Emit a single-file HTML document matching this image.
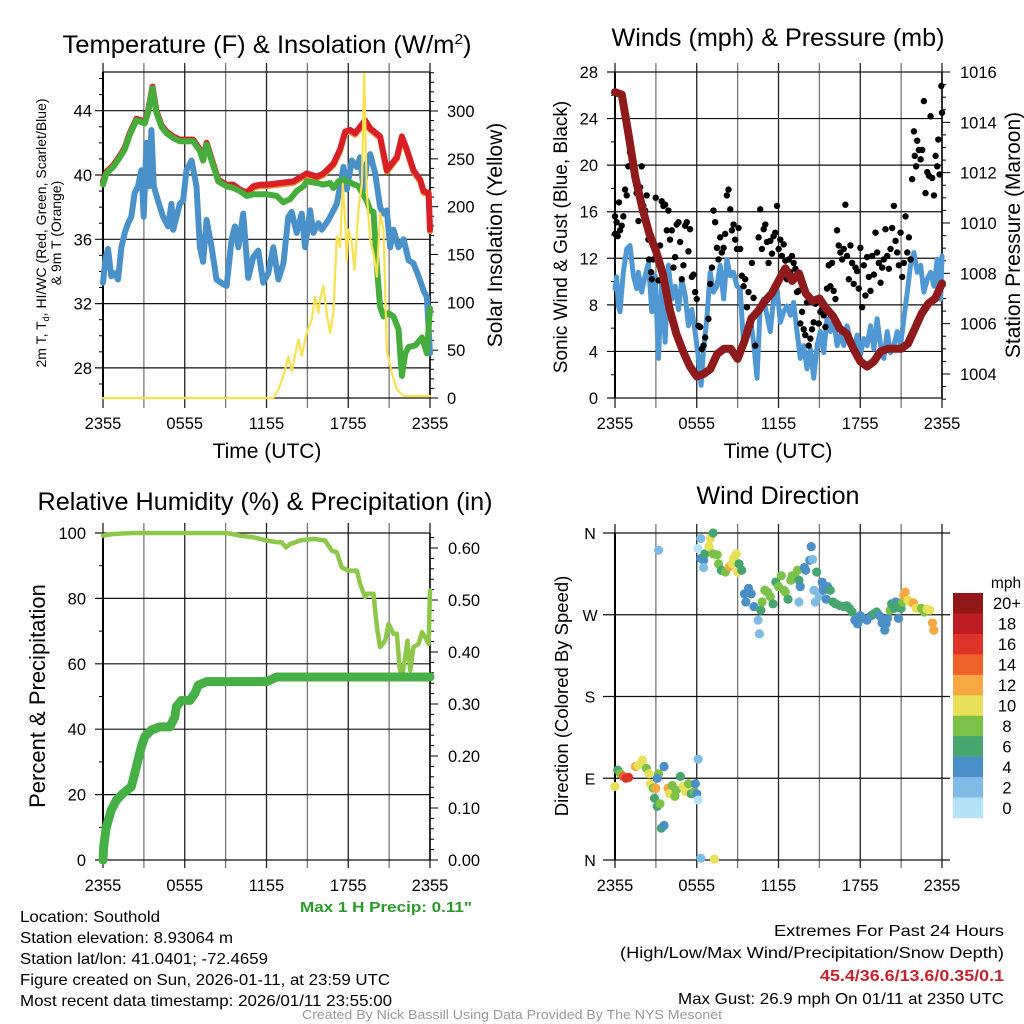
<!DOCTYPE html>
<html><head><meta charset="utf-8"><style>
html,body{margin:0;padding:0;background:#fff}
svg{display:block;font-family:"Liberation Sans",sans-serif}
</style></head><body>
<svg id="s" xmlns="http://www.w3.org/2000/svg" width="1024" height="1024" viewBox="0 0 1024 1024">
<rect width="1024" height="1024" fill="#fff"/>
<g id="plots"></g>
<text x="267" y="53" font-size="25" text-anchor="middle" textLength="409" lengthAdjust="spacingAndGlyphs">Temperature (F) &amp; Insolation (W/m<tspan dy="-9" font-size="15">2</tspan><tspan dy="9">)</tspan></text>
<text x="778" y="46" font-size="25" text-anchor="middle" textLength="333" lengthAdjust="spacingAndGlyphs">Winds (mph) &amp; Pressure (mb)</text>
<text x="265" y="510" font-size="25" text-anchor="middle" textLength="455" lengthAdjust="spacingAndGlyphs">Relative Humidity (%) &amp; Precipitation (in)</text>
<text x="778" y="504" font-size="25" text-anchor="middle" textLength="163" lengthAdjust="spacingAndGlyphs">Wind Direction</text>
<text x="267" y="458" font-size="21" text-anchor="middle">Time (UTC)</text>
<text x="778" y="458" font-size="21" text-anchor="middle">Time (UTC)</text>
<text transform="translate(46,233) rotate(-90)" font-size="14" text-anchor="middle">2m T, T<tspan font-size="9" dy="3">d</tspan><tspan dy="-3">, HI/WC (Red, Green, Scarlet/Blue)</tspan></text>
<text transform="translate(61,233) rotate(-90)" font-size="14" text-anchor="middle">&amp; 9m T (Orange)</text>
<text transform="translate(502,235) rotate(-90)" font-size="21" text-anchor="middle">Solar Insolation (Yellow)</text>
<text transform="translate(567,237) rotate(-90)" font-size="19" text-anchor="middle">Sonic Wind &amp; Gust (Blue, Black)</text>
<text transform="translate(1020,235) rotate(-90)" font-size="21" text-anchor="middle">Station Pressure (Maroon)</text>
<text transform="translate(45,696) rotate(-90)" font-size="22" text-anchor="middle">Percent &amp; Precipitation</text>
<text transform="translate(568,696) rotate(-90)" font-size="18.5" text-anchor="middle">Direction (Colored By Speed)</text>
<text x="472" y="912" font-size="15" font-weight="bold" fill="#2a9a2a" text-anchor="end" textLength="172" lengthAdjust="spacingAndGlyphs">Max 1 H Precip: 0.11"</text>
<g font-size="16">
<text x="20" y="922" textLength="140" lengthAdjust="spacingAndGlyphs">Location: Southold</text>
<text x="20" y="943" textLength="213" lengthAdjust="spacingAndGlyphs">Station elevation: 8.93064 m</text>
<text x="20" y="964" textLength="248" lengthAdjust="spacingAndGlyphs">Station lat/lon: 41.0401; -72.4659</text>
<text x="20" y="985" textLength="370" lengthAdjust="spacingAndGlyphs">Figure created on Sun, 2026-01-11, at 23:59 UTC</text>
<text x="20" y="1006" textLength="372" lengthAdjust="spacingAndGlyphs">Most recent data timestamp: 2026/01/11 23:55:00</text>
</g>
<g font-size="16" text-anchor="end">
<text x="1004" y="936" textLength="230" lengthAdjust="spacingAndGlyphs">Extremes For Past 24 Hours</text>
<text x="1004" y="958" textLength="384" lengthAdjust="spacingAndGlyphs">(High/Low/Max Wind/Precipitation/Snow Depth)</text>
<text x="1004" y="981" font-weight="bold" fill="#c8232c" textLength="184" lengthAdjust="spacingAndGlyphs">45.4/36.6/13.6/0.35/0.1</text>
<text x="1004" y="1004" textLength="326" lengthAdjust="spacingAndGlyphs">Max Gust: 26.9 mph On 01/11 at 2350 UTC</text>
</g>
<text x="512" y="1019" font-size="13" fill="#999" text-anchor="middle" textLength="420" lengthAdjust="spacingAndGlyphs">Created By Nick Bassill Using Data Provided By The NYS Mesonet</text>
</svg>
<script>
// ---------- DATA ----------
const timeTickLabels = ["2355","0555","1155","1755","2355"];
const tempTicks = [28,32,36,40,44];
const solarTicks = [0,50,100,150,200,250,300];
const windTicks = [0,4,8,12,16,20,24,28];
const presTicks = [1004,1006,1008,1010,1012,1014,1016];
const rhTicks = [0,20,40,60,80,100];
const precTicks = ["0.00","0.10","0.20","0.30","0.40","0.50","0.60"];
const dirTicks = ["N","E","S","W","N"];
const dirTickDeg = [0,90,180,270,360];
const speedBins = ["0","2","4","6","8","10","12","14","16","18","20+"];
const speedColors = ["#b5e2f7","#7fbbe4","#4a8fc6","#47a56f","#7cc247","#e8e058","#f7a845","#ef622c","#dd3429","#bd1c24","#921719"];

const redHours = [0,0.25,0.74,1.23,1.59,1.96,2.45,2.82,3.06,3.31,3.63,3.92,4.29,4.66,5.15,5.64,6.62,7.11,7.35,7.6,8.09,8.46,9.07,9.56,10.05,10.54,11.03,11.52,12.01,12.99,13.97,14.95,15.69,16.18,16.91,17.4,17.77,18.14,18.5,18.87,19.24,19.61,20.34,20.83,21.2,21.57,21.94,22.3,22.79,23.28,23.53,23.9,24];
const redTemp = [39.6,40.2,40.6,41.2,41.7,42.6,43.5,43.4,43.3,44.0,45.5,44.0,43.1,42.7,42.4,42.2,42.2,41.6,41.0,42.0,40.7,39.7,39.4,39.4,39.1,38.9,39.3,39.4,39.4,39.5,39.6,40.1,39.9,40.1,40.7,41.6,42.7,42.8,42.6,43.0,43.4,42.9,42.4,40.3,40.7,41.1,42.4,41.6,40.3,39.7,39.0,38.9,36.6];
const greenHours = [0,0.25,0.74,1.23,1.59,1.96,2.45,2.82,3.06,3.31,3.63,3.92,4.29,4.66,5.15,5.64,6.62,7.11,7.35,7.6,8.09,8.46,9.07,9.56,10.05,10.54,11.03,12.01,12.75,13.24,13.73,14.22,14.71,14.95,15.69,16.18,16.67,16.91,17.28,17.65,18.75,19.0,19.36,19.61,19.85,20.1,20.34,20.59,20.96,21.32,21.69,21.94,22.18,22.43,22.92,23.41,23.77,24];
const greenTemp = [39.4,40.1,40.5,41.1,41.6,42.5,43.4,43.3,43.2,43.9,45.4,43.9,43.0,42.6,42.3,42.1,42.1,41.5,40.9,41.9,40.6,39.6,39.3,39.2,39.0,38.7,38.8,38.8,38.7,38.3,38.5,39.0,39.3,39.6,39.5,39.4,39.5,39.2,39.6,39.7,39.3,38.9,38.4,37.8,37.7,34.3,31.8,31.2,31.4,31.2,30.4,27.5,28.9,29.3,29.4,29.9,28.9,31.7];
const blueHours = [0,0.2,0.37,0.61,0.86,1.1,1.35,1.59,1.84,2.08,2.33,2.57,2.82,2.99,3.19,3.38,3.55,3.73,4.04,4.41,4.78,5.02,5.15,5.64,5.88,6.13,6.5,6.86,7.11,7.35,7.6,7.97,8.33,8.82,9.07,9.44,9.68,9.93,10.29,10.66,11.03,11.4,11.76,12.13,12.5,12.87,13.24,13.6,13.85,14.22,14.58,14.83,15.2,15.44,15.81,16.05,16.54,16.79,17.16,17.4,17.65,17.89,18.26,18.63,18.87,19.12,19.36,19.61,19.98,20.34,20.59,20.83,21.08,21.32,21.69,22.06,22.43,22.79,23.16,23.53,23.77,24];
const blueTemp = [33.3,34.9,35.4,33.7,33.9,33.5,35.5,36.4,37.0,37.4,38.9,39.3,40.3,37.4,42.0,39.3,42.8,39.3,38.4,37.4,36.8,38.2,36.6,38.2,38.4,40.3,40.9,39.3,35.5,34.6,37.2,35.5,33.5,33.2,33.1,36.0,36.8,35.5,37.6,33.6,34.9,35.3,33.3,33.9,35.5,33.5,34.5,37.4,37.7,36.4,37.6,35.5,37.8,36.4,37.0,36.6,37.2,37.6,38.2,39.3,40.5,39.1,40.9,40.5,41.1,39.1,40.7,41.3,40.1,38.0,37.6,37.8,35.5,36.6,35.5,36.0,34.7,34.5,33.7,32.8,32.4,28.9];
const solarHours = [0,12.5,12.87,13.24,13.6,13.85,14.34,14.58,14.95,15.32,15.56,15.81,15.93,16.18,16.42,16.67,16.91,17.16,17.4,17.6,17.77,17.89,18.01,18.26,18.46,18.75,19.0,19.17,19.36,19.61,19.85,20.1,20.34,20.59,20.83,21.2,21.57,22.06,24];
const solarWm2 = [0,0,9,23,43,28,61,44,68,82,106,89,103,117,89,68,89,169,158,224,186,144,176,162,134,197,224,339,214,165,151,127,193,176,50,26,9,2,2];

const windHours = [0,0.12,0.25,0.37,0.61,0.86,1.1,1.35,1.59,1.72,1.96,2.21,2.45,2.7,2.94,3.19,3.43,3.68,3.92,4.17,4.41,4.66,4.9,5.15,5.39,5.64,5.88,6.13,6.32,6.5,6.74,6.99,7.23,7.48,7.72,7.97,8.21,8.46,8.7,8.95,9.19,9.44,9.68,9.93,10.17,10.42,10.66,10.91,11.15,11.4,11.64,11.89,12.13,12.38,12.62,12.87,13.11,13.36,13.6,13.85,14.09,14.34,14.58,14.83,15.07,15.32,15.56,15.81,16.05,16.3,16.54,16.79,17.03,17.28,17.52,17.77,18.01,18.26,18.5,18.75,19.0,19.24,19.49,19.73,19.98,20.22,20.47,20.71,20.96,21.2,21.45,21.69,21.94,22.18,22.43,22.67,22.92,23.16,23.41,23.65,23.9,24];
const windMph = [9.4,10.4,7.9,7.4,10.8,12.8,13.1,10.5,9.4,10.8,9.1,10.5,11.6,7.4,10.5,3.4,10.2,4.8,11.4,8.5,9.6,7.6,10.2,8.8,6.2,7.6,5.7,3.4,1.1,4.2,6.8,10.8,9.1,9.6,11.4,8.5,11.9,10.5,10.8,9.6,9.4,4.5,5.9,6.8,4.8,1.7,7.9,8.5,7.1,5.7,8.5,9.4,6.5,7.4,7.9,7.1,8.2,5.7,3.4,4.5,2.5,4.2,1.7,4.5,5.7,3.9,6.8,5.7,6.8,4.5,5.4,4.5,6.2,5.1,3.9,5.4,3.7,5.1,4.5,6.2,4.2,6.8,4.5,3.4,5.7,3.9,4.5,5.7,4.5,6.8,9.1,11.4,12.5,10.8,11.4,9.1,10.2,10.8,9.6,11.9,8.5,12.2];
const gustHours = [0,0,0.12,0.2,0.29,0.37,0.49,0.61,0.74,0.86,0.98,1.1,1.23,1.35,1.47,1.59,1.72,1.84,1.96,2.08,2.21,2.33,2.45,2.5,2.65,2.7,2.82,2.99,3.19,3.31,3.43,3.55,3.68,3.8,3.92,4.04,4.17,4.29,4.41,4.53,4.66,4.78,4.9,5.02,5.15,5.27,5.39,5.51,5.64,5.76,5.88,6.0,6.13,6.25,6.37,6.5,6.62,6.86,6.99,7.11,7.23,7.35,7.48,7.6,7.72,7.84,7.97,8.09,8.21,8.33,8.46,8.58,8.7,8.82,8.95,9.07,9.19,9.31,9.44,9.56,9.68,9.8,9.93,10.05,10.17,10.29,10.54,10.66,10.78,10.91,11.03,11.15,11.27,11.4,11.52,11.64,11.76,11.89,12.01,12.13,12.25,12.38,12.5,12.62,12.75,12.87,12.99,13.11,13.24,13.36,13.48,13.6,13.73,13.85,13.97,14.09,14.22,14.34,14.46,14.58,14.71,14.83,14.95,15.07,15.2,15.32,15.44,15.56,15.69,15.81,15.93,16.05,16.18,16.3,16.42,16.54,16.67,16.79,16.91,17.03,17.16,17.28,17.4,17.52,17.65,17.77,17.89,18.01,18.14,18.26,18.38,18.5,18.63,18.75,18.87,19.0,19.12,19.24,19.36,19.49,19.61,19.73,19.85,19.98,20.1,20.22,20.34,20.47,20.59,20.71,20.83,20.96,21.08,21.2,21.32,21.45,21.57,21.69,21.81,21.94,22.0,22.1,22.18,22.3,22.43,22.55,22.67,22.79,22.92,23.04,23.16,23.28,23.41,23.53,23.65,23.73,23.82,23.95,24];
const gustMph = [14.1,15.6,15.1,13.9,16.8,14.4,14.8,15.6,17.9,17.4,19.9,21.1,20.5,19.9,19.4,17.6,15.2,18.1,19.9,16.5,16.1,17.4,13.6,11.9,10.8,10.2,11.9,17.2,10.1,13.1,16.9,16.5,16.6,14.4,16.1,13.6,14.4,11.2,12.1,14.9,15.1,13.4,10.2,11.4,14.8,15.1,12.6,14.5,10.4,10.6,9.1,8.5,6.2,6.1,4.2,4.5,5.2,6.8,9.8,11.2,16.1,15.1,12.9,11.9,13.8,12.5,12.9,14.1,17.4,17.9,16.2,14.4,14.9,13.6,12.8,14.6,12.8,10.5,9.6,10.2,7.8,9.1,6.2,11.6,8.6,4.5,13.8,16.2,12.8,14.5,14.9,13.4,11.6,13.5,12.4,13.9,14.2,16.5,12.8,13.6,12.2,13.2,11.8,10.2,11.9,10.8,12.2,11.6,11.1,9.1,9.2,6.4,7.4,5.9,5.4,8.2,4.5,5.1,5.9,6.5,8.1,8.5,6.4,7.4,7.6,7.1,6.1,9.4,11.4,9.6,11.6,9.2,8.5,14.4,13.1,12.5,11.9,12.8,16.6,12.2,10.2,13.1,11.6,9.8,11.2,10.9,9.4,12.9,7.8,11.4,8.8,12.1,10.4,9.2,12.2,10.6,14.2,12.5,11.6,9.9,11.2,11.9,14.5,12.2,11.1,12.8,14.6,16.5,13.5,12.5,11.4,14.2,10.4,11.6,15.6,12.5,13.8,11.9,18.8,22.9,20.8,19.9,22.1,21.3,20.5,21.3,25.5,17.6,19.4,19.1,24.2,18.9,17.4,20.8,19.9,22.2,19.2,26.8,24.5];
const presHours = [0,0.5,1,1.5,2,2.5,3,3.5,4,4.5,5,5.5,6,6.5,7,7.5,8,8.5,9,9.5,10,10.5,11,11.5,12,12.5,13,13.5,14,14.5,15,15.5,16,16.5,17,17.5,18,18.5,19,19.5,20,20.5,21,21.5,22,22.5,23,23.5,24];
const presMb = [1015.2,1015.1,1013.5,1011.8,1010.6,1009.6,1008.9,1008.0,1006.6,1005.6,1004.9,1004.3,1003.9,1004.0,1004.2,1004.8,1005.0,1005.0,1004.6,1005.3,1006.2,1006.5,1006.9,1007.2,1007.7,1008.2,1007.7,1008.0,1007.2,1006.9,1007.0,1006.6,1006.3,1005.8,1005.6,1005.0,1004.5,1004.3,1004.5,1004.9,1005.0,1005.0,1005.0,1005.2,1005.8,1006.4,1006.8,1007.0,1007.6];

const rhHours = [0,0.74,2.21,9.07,10.05,11.03,12.01,12.75,13.11,13.43,13.73,14.46,15.44,16.3,16.79,17.16,17.52,18.01,18.63,18.87,19.24,19.36,19.85,20.1,20.34,20.71,20.96,21.32,21.57,21.76,21.94,22.18,22.35,22.55,22.79,23.16,23.41,23.65,23.9,24];
const rhPct = [99.2,99.7,100,100,99.2,98.7,97.7,97.2,97.2,95.6,96.6,97.7,98.2,97.7,94.6,94.1,89.5,88.5,88.5,84.4,80.4,81.4,81.4,71.2,65.1,67.1,72.2,69.2,69.2,59.0,56.0,62.1,67.1,58.0,65.1,66.1,69.7,68.1,66.1,82.4];
const precHours = [0,0.05,0.25,0.61,0.98,1.47,2.08,2.33,2.57,2.82,3.06,3.55,4.17,4.9,5.27,5.39,5.76,6.37,6.74,6.99,7.6,12.01,12.75,24];
const precIn = [0,0.026,0.064,0.096,0.115,0.128,0.141,0.166,0.192,0.218,0.237,0.25,0.256,0.256,0.275,0.295,0.307,0.307,0.32,0.336,0.343,0.343,0.352,0.352];

const dirHours = [0,0.2,0.4,0.6,0.8,1.0,1.5,1.7,2.0,2.3,2.5,2.6,2.8,2.9,3.0,3.1,3.3,3.2,3.6,3.1,3.4,3.6,3.9,4.0,4.2,4.4,4.5,4.8,5.0,5.2,5.4,5.6,5.8,5.9,6.0,6.1,6.1,3.2,6.1,6.3,6.3,6.5,6.5,6.6,6.9,7.0,7.2,7.2,7.5,7.6,7.8,8.1,8.4,8.6,8.7,8.9,9.0,9.1,9.3,9.5,9.6,9.8,10.0,10.2,10.5,10.6,10.7,10.8,11.0,11.2,11.4,11.6,11.8,12.0,12.2,12.4,12.5,12.7,12.9,13.0,13.2,13.4,13.5,13.6,13.5,13.9,14.0,14.3,14.4,14.5,14.6,14.7,14.8,15.0,15.2,15.3,15.5,15.6,15.8,16.0,16.2,16.5,16.8,17.0,17.2,17.4,17.6,17.8,18.0,18.2,18.5,18.8,19.0,19.2,19.4,19.6,19.8,19.9,20.0,20.2,20.3,20.5,20.6,20.7,20.8,21.0,21.1,21.2,21.3,21.5,21.7,21.9,22.1,22.3,22.5,22.7,22.9,23.1,23.3,23.4,6.3,7.3];
const dirDeg = [81,99,95,92,90,91,103,104,110,101,95,84,79,68,79,59,62,95,103,90,35,38,79,73,82,70,77,92,81,75,84,73,75,84,73,66,111,341,343,354,332,330,322,337,345,354,360,337,336,326,319,317,323,326,332,337,317,326,319,293,284,299,293,279,264,249,275,284,297,295,290,282,306,301,313,297,295,287,308,313,312,319,308,301,284,322,319,330,345,331,297,284,317,291,306,297,287,301,297,284,282,280,279,280,277,273,264,260,269,266,264,269,271,273,269,261,253,260,266,275,282,277,284,280,266,277,284,291,295,286,284,283,277,277,277,273,276,275,261,253,2,1];
const dirSpeed = [10,6,8,14,16,17,12,10,10,8,10,10,8,6,12,6,8,8,4,4,6,4,12,10,8,8,8,6,10,10,8,6,8,4,4,1,2,2,0,2,4,4,2,6,10,10,6,8,8,8,6,8,12,10,10,10,10,6,6,4,4,4,4,4,2,2,6,8,8,8,8,6,6,8,8,8,8,6,8,8,8,8,6,4,2,4,4,4,4,2,2,2,6,2,4,4,4,4,6,6,6,6,6,6,6,6,4,4,4,4,4,4,6,6,4,4,4,4,4,8,6,6,4,6,4,6,8,12,12,10,10,12,10,10,8,8,10,10,12,12,2,10];

// ---------- DRAWING ----------
const NS='http://www.w3.org/2000/svg';
const root=document.getElementById('plots');
function el(tag,attrs,parent){const e=document.createElementNS(NS,tag);for(const k in attrs)e.setAttribute(k,attrs[k]);(parent||root).appendChild(e);return e;}
function lin(d0,d1,r0,r1){return v=>r0+(v-d0)*(r1-r0)/(d1-d0);}
function pathFrom(xs,ys,fx,fy){return xs.map((h,i)=>(i?'L':'M')+fx(h).toFixed(1)+' '+fy(ys[i]).toFixed(1)).join(' ');}

function frame(x0,x1,yT,yB,vTop,vBot,name){
  const g=el('g',{});
  
  
  const fx=lin(0,24,x0,x1);
  for(let h=0;h<=24;h+=3){
    const ln=el('line',{x1:fx(h),x2:fx(h),y1:vTop,y2:vBot,stroke:(h%6? '#777':'#222'),'stroke-width':1.3},g);
    
    
  }
  for(let i=0;i<5;i++){
    const t=el('text',{x:fx(i*6),y:yB+31,'font-size':16.5,'text-anchor':'middle'},g);
    t.textContent=timeTickLabels[i];
    
    
  }
  const ax=el('line',{x1:x0,x2:x0,y1:yT,y2:yB,stroke:'#000','stroke-width':2},g);
  
  
  return {fx,g};
}
function hgrid(g,x0,x1,y,label,lx,anchor,ext){
  const l=el('line',{x1:x0-ext,x2:x1,y1:y,y2:y,stroke:'#111','stroke-width':1.2},g);
  
  
  if(label!==null){const t=el('text',{x:lx,y:y+6,'font-size':16.5,'text-anchor':anchor},g);t.textContent=label;
  
  }
}
function rtick(g,x,y,len,label,lx){
  const l=el('line',{x1:x,x2:x+len,y1:y,y2:y,stroke:'#000','stroke-width':1},g);
  
  
  if(label!==null){const t=el('text',{x:lx,y:y+6,'font-size':16.5},g);t.textContent=label;
  
  }
}
function line(d,color,w,name){const p=el('path',{d:d,fill:'none',stroke:color,'stroke-width':w,'stroke-linejoin':'round','stroke-linecap':'round'});
  
  return p;}

// Panel 1: temperature
(function(){
  const x0=103,x1=430,yT=72,yB=398;
  const {fx,g}=frame(x0,x1,yT,yB,63,408,'temp');
  const fy=lin(40,44,175,110.7), fs=lin(0,300,398,111);
  hgrid(g,x0,x1,yT,null,0,'end',0);hgrid(g,x0,x1,yB,null,0,'end',0);
  tempTicks.forEach(v=>hgrid(g,x0,x1,fy(v),String(v),92,'end',8));
  for(let v=27;v<=46;v++){if(v%4){const l=el('line',{x1:x0-4,x2:x0,y1:fy(v),y2:fy(v),stroke:'#000'},g);}}
  const ra=el('line',{x1:x1,x2:x1,y1:yT,y2:yB,stroke:'#000','stroke-width':1.5},g);
  solarTicks.forEach(v=>rtick(g,x1,fs(v),8,String(v),447));
  for(let v=10;v<=340;v+=10){if(v%50)rtick(g,x1,fs(v),4,null,0);}
  line(pathFrom(blueHours,blueTemp,fx,fy),'#4a90c9',6,'dewpoint-line');
  line(pathFrom(redHours,redTemp,fx,v=>fy(v)+1.5),'#f08a2c',6,'9m-temp-line');
  line(pathFrom(redHours,redTemp,fx,fy),'#d81f26',6,'2m-temp-line');
  line(pathFrom(greenHours,greenTemp,fx,fy),'#45ad3c',6,'heat-index-line');
  line(pathFrom(solarHours,solarWm2,fx,fs),'#f9e14e',2.2,'solar-line');
})();

// Panel 2: winds
(function(){
  const x0=615,x1=942,yT=72,yB=398;
  const {fx,g}=frame(x0,x1,yT,yB,63,408,'wind');
  const fy=lin(0,28,398,72), fp=lin(1004,1016,374,72);
  windTicks.forEach(v=>hgrid(g,x0,x1,fy(v),String(v),598,'end',8));
  for(let v=2;v<28;v+=4){const l=el('line',{x1:x0-4,x2:x0,y1:fy(v),y2:fy(v),stroke:'#000'},g);}
  const ra=el('line',{x1:x1,x2:x1,y1:yT,y2:yB,stroke:'#000','stroke-width':1.5},g);
  presTicks.forEach(v=>rtick(g,x1,fp(v),8,String(v),960));
  for(let v=1003;v<=1016;v+=0.5){if(v%2)rtick(g,x1,fp(v),4,null,0);}
  line(pathFrom(windHours,windMph,fx,fy),'#4f98d3',5,'wind-speed-line');
  gustHours.forEach((h,i)=>{const c=el('circle',{cx:fx(h),cy:fy(gustMph[i]),r:3.2,fill:'#000'});
    
    });
  line(pathFrom(presHours,presMb,fx,fp),'#8e1a1c',8,'pressure-line');
})();

// Panel 3: humidity
(function(){
  const x0=103,x1=430,yT=533,yB=860;
  const {fx,g}=frame(x0,x1,yT,yB,523,868,'rh');
  const fy=lin(0,100,860,533), fpr=lin(0,0.6,860,548);
  rhTicks.forEach(v=>hgrid(g,x0,x1,fy(v),String(v),86,'end',8));
  for(let v=10;v<100;v+=20){const l=el('line',{x1:x0-4,x2:x0,y1:fy(v),y2:fy(v),stroke:'#000'},g);}
  const ra=el('line',{x1:x1,x2:x1,y1:yT,y2:yB,stroke:'#000','stroke-width':1.5},g);
  precTicks.forEach(v=>rtick(g,x1,fpr(+v),8,v,448));
  for(let v=0.02;v<0.64;v+=0.02){if(Math.round(v*100)%10)rtick(g,x1,fpr(v),4,null,0);}
  line(pathFrom(rhHours,rhPct,fx,fy),'#8dc84a',4.5,'humidity-line');
  line(pathFrom(precHours,precIn,fx,fpr),'#46b046',9,'precip-line');
})();

// Panel 4: direction
(function(){
  const x0=615,x1=942,yT=533,yB=860;
  const {fx,g}=frame(x0,x1,yT,yB,524,868,'dir');
  const fy=lin(0,360,860,533);
  dirTicks.forEach((lab,i)=>{hgrid(g,x0,x1+8,fy(dirTickDeg[i]),null,0,'end',12);
    const t=el('text',{x:590,y:fy(dirTickDeg[i])+6,'font-size':16,'text-anchor':'middle'},g);t.textContent=lab;
    
    });
  dirHours.forEach((h,i)=>{const s=dirSpeed[i];const bin=Math.min(10,Math.floor(s/2));
    const c=el('circle',{cx:fx(h),cy:fy(dirDeg[i]),r:4.6,fill:speedColors[bin]});
    
    });
  const leg=el('g',{});
  
  
  const bh=225/speedBins.length;
  speedBins.forEach((lab,i)=>{const k=speedBins.length-1-i;
    const r=el('rect',{x:953,y:593+i*bh,width:30,height:bh+0.3,fill:speedColors[k]},leg);
    
    
    const t=el('text',{x:1007,y:593+i*bh+bh/2+6,'font-size':16.5,'text-anchor':'middle'},leg);t.textContent=speedBins[k];
    
    });
  const m=el('text',{x:1006,y:588,'font-size':15.5,'text-anchor':'middle'},leg);m.textContent='mph';
  
  
})();
</script>
</body></html>
